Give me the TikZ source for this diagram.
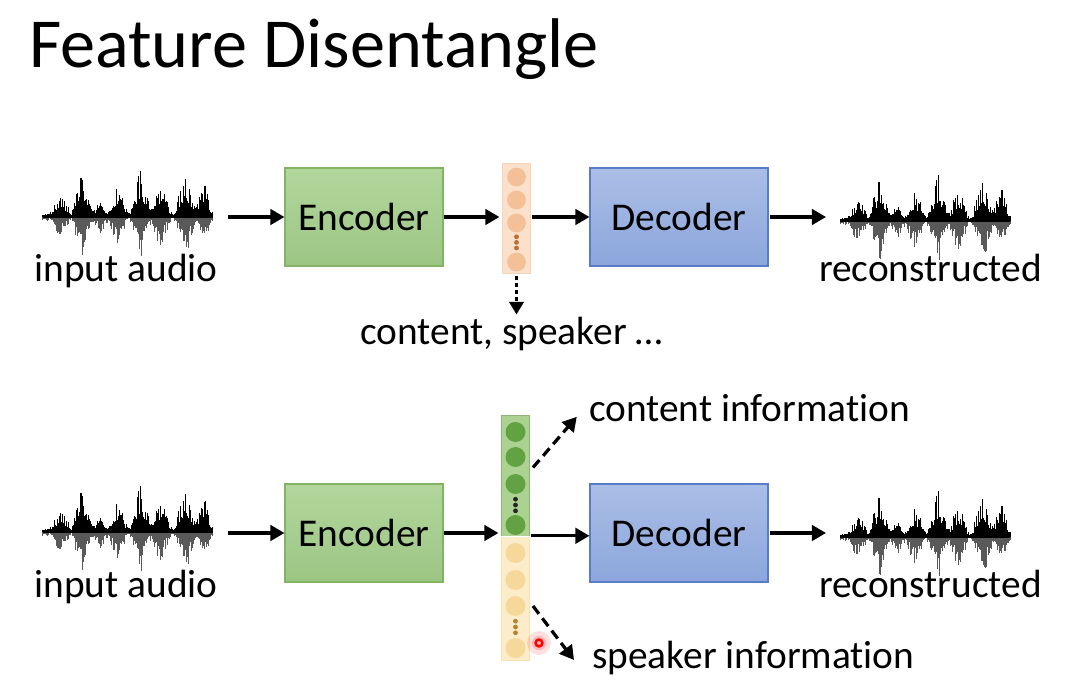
\documentclass[tikz,border=0pt]{standalone}
\usepackage{fontspec}
\setmainfont[Ligatures=NoCommon]{Carlito}
\usetikzlibrary{arrows.meta}

\definecolor{enctop}{RGB}{178,214,156}
\definecolor{encbot}{RGB}{156,198,132}
\definecolor{encline}{RGB}{130,180,100}
\definecolor{dectop}{RGB}{170,190,230}
\definecolor{decbot}{RGB}{140,166,220}
\definecolor{decline}{RGB}{88,124,200}
\definecolor{mixfill}{RGB}{251,224,203}
\definecolor{mixunit}{RGB}{243,192,152}
\definecolor{mixdot}{RGB}{190,110,50}
\definecolor{confill}{RGB}{172,210,146}
\definecolor{conunit}{RGB}{98,162,66}
\definecolor{spkfill}{RGB}{252,236,202}
\definecolor{spkunit}{RGB}{246,217,154}
\definecolor{spkdot}{RGB}{180,130,50}

\tikzset{
  txt/.style={font=\fontsize{28}{32}\selectfont, inner sep=0pt},
  codebox/.style={draw, line width=0.8pt, minimum height=2.45cm, inner sep=0pt, txt},
  encbox/.style={codebox, draw=encline, top color=enctop, bottom color=encbot, minimum width=3.95cm},
  decbox/.style={codebox, draw=decline, top color=dectop, bottom color=decbot, minimum width=4.45cm},
  vecbox/.style={inner sep=0pt, minimum width=0.7cm},
  unit/.style={circle, inner sep=0pt, minimum size=0.47cm},
  flow/.style={line width=2.2pt, -{Triangle[length=10pt,width=11pt]}},
  split/.style={line width=2.3pt, dash pattern=on 7pt off 4pt, -{Triangle[length=10pt,width=11pt]}},
  dotline/.style={line width=2.5pt, dash pattern=on 2.5pt off 2.5pt, -{Triangle[length=9pt,width=10pt]}},
  pics/waveform/.style={code={
    \pgfmathsetseed{5}
    \foreach \k in {0,...,340}{
      \pgfmathsetmacro{\xx}{\k/2}
      \pgfmathsetmacro{\env}{5+22*max(0,1-abs(\xx-18)/10)+46*max(0,1-abs(\xx-40)/11)+16*max(0,1-abs(\xx-58)/8)+30*max(0,1-abs(\xx-75)/10)+46*max(0,1-abs(\xx-98)/11)+34*max(0,1-abs(\xx-118)/10)+46*max(0,1-abs(\xx-143)/11)+32*max(0,1-abs(\xx-161)/9)}
      \pgfmathsetmacro{\ra}{rnd}
      \pgfmathsetmacro{\rb}{rnd}
      \pgfmathsetmacro{\up}{0.025*\env*(0.35+0.65*\ra*\ra*\ra)}
      \pgfmathsetmacro{\dn}{0.021*\env*(0.33+0.67*\rb*\rb*\rb)}
      \draw[black, line width=0.5pt] (0.025*\xx,0) -- ++(0,\up);
      \draw[black!65, line width=0.5pt] (0.025*\xx,0) -- ++(0,-\dn);
    }
    \draw[line width=1.8pt] (0,0) -- (4.25,0);
  }}
}

\begin{document}
\begin{tikzpicture}

\useasboundingbox (0,0) rectangle (26.975,-17.1);
\fill[white] (0,0) rectangle (26.975,-17.1);

% title
\node[anchor=base west, inner sep=0pt, font=\fontsize{50}{60}\selectfont] (title) at (0.72,-1.7) {Feature Disentangle};

% top row
\pic at (1.07,-5.42) {waveform};
\node[txt, anchor=base] (inA) at (3.15,-7.05) {input audio};
\coordinate (fromA) at (5.7,-5.425);
\node[encbox] (encA) at (9.1,-5.425) {Encoder};

\node[vecbox, minimum height=2.75cm, fill=mixfill, draw=mixunit!70, line width=0.4pt] (vmix) at (12.9125,-5.45) {};
\foreach \i/\y in {1/-4.425, 2/-5.0, 3/-5.575, 4/-6.55}
  \node[unit, fill=mixunit] (m\i) at (12.9125,\y) {};
\foreach \y in {-5.92,-6.06,-6.2}
  \fill[mixdot] (12.9125,\y) circle (0.06);

\node[decbox] (decA) at (16.975,-5.425) {Decoder};
\coordinate (toA) at (20.65,-5.425);
\pic at (21.0,-5.52) {waveform};
\node[txt, anchor=base] (outA) at (23.26,-7.05) {reconstructed};

\draw[flow] (fromA) -- (encA.west);
\draw[flow, shorten >=2pt] (encA.east) -- (encA.east -| vmix.west);
\draw[flow, shorten <=1pt] (decA.west -| vmix.east) -- (decA.west);
\draw[flow, shorten <=1pt] (decA.east) -- (toA);

\node[txt, anchor=base] (mix) at (12.79,-8.625) {content, speaker …};
\draw[dotline, shorten <=2pt, shorten >=2pt] (vmix.south) -- (vmix.south |- mix.north);

% bottom row
\pic at (1.07,-13.3) {waveform};
\node[txt, anchor=base] (inB) at (3.15,-14.95) {input audio};
\coordinate (fromB) at (5.7,-13.325);
\node[encbox] (encB) at (9.1,-13.325) {Encoder};

\node[vecbox, minimum height=3.025cm, fill=confill, draw=confill!85!black, line width=0.4pt] (vcon) at (12.8875,-11.8875) {};
\node[vecbox, minimum height=3.1cm, fill=spkfill, draw=spkunit!80, line width=0.4pt] (vspk) at (12.8875,-14.95) {};
\draw[white, line width=1pt] (vcon.south west) -- (vcon.south east);
\foreach \i/\y in {1/-10.8, 2/-11.425, 3/-12.1, 4/-13.125}
  \node[unit, minimum size=0.5cm, fill=conunit] (c\i) at (12.8875,\y) {};
\foreach \y in {-12.48,-12.625,-12.77}
  \fill[black!85] (12.8875,\y) circle (0.06);
\foreach \i/\y in {1/-13.825, 2/-14.5, 3/-15.15, 4/-16.2}
  \node[unit, minimum size=0.5cm, fill=spkunit] (s\i) at (12.8875,\y) {};
\foreach \y in {-15.53,-15.675,-15.82}
  \fill[spkdot] (12.8875,\y) circle (0.06);

\node[decbox] (decB) at (16.975,-13.325) {Decoder};
\coordinate (toB) at (20.65,-13.325);
\pic at (21.0,-13.42) {waveform};
\node[txt, anchor=base] (outB) at (23.26,-14.95) {reconstructed};

\draw[flow] (fromB) -- (encB.west);
\draw[flow, shorten >=2pt] (encB.east) -- (encB.east -| vcon.west);
\draw[flow, shorten <=1pt] ([yshift=-2pt]decB.west -| vcon.east) -- ([yshift=-2pt]decB.west);
\draw[flow, shorten <=1pt] (decB.east) -- (toB);

% split of the code
\node[txt, anchor=base west] (cinfo) at (14.72,-10.55) {content information};
\node[txt, anchor=base west] (sinfo) at (14.8,-16.72) {speaker information};
\coordinate (ctip) at (14.42,-10.42);
\coordinate (stip) at (14.35,-16.5);
\draw[split] ([shift={(0.08,0.2)}]vcon.east) -- (ctip);
\draw[split] ([xshift=0.08cm]s3.east -| vspk.east) -- (stip);

% pointer
\fill[red, opacity=0.12] (13.475,-16.075) circle (0.3);
\fill[red, opacity=0.18] (13.475,-16.075) circle (0.18);
\draw[red, line width=1.8pt] (13.475,-16.075) circle (0.085);

\end{tikzpicture}
\end{document}
